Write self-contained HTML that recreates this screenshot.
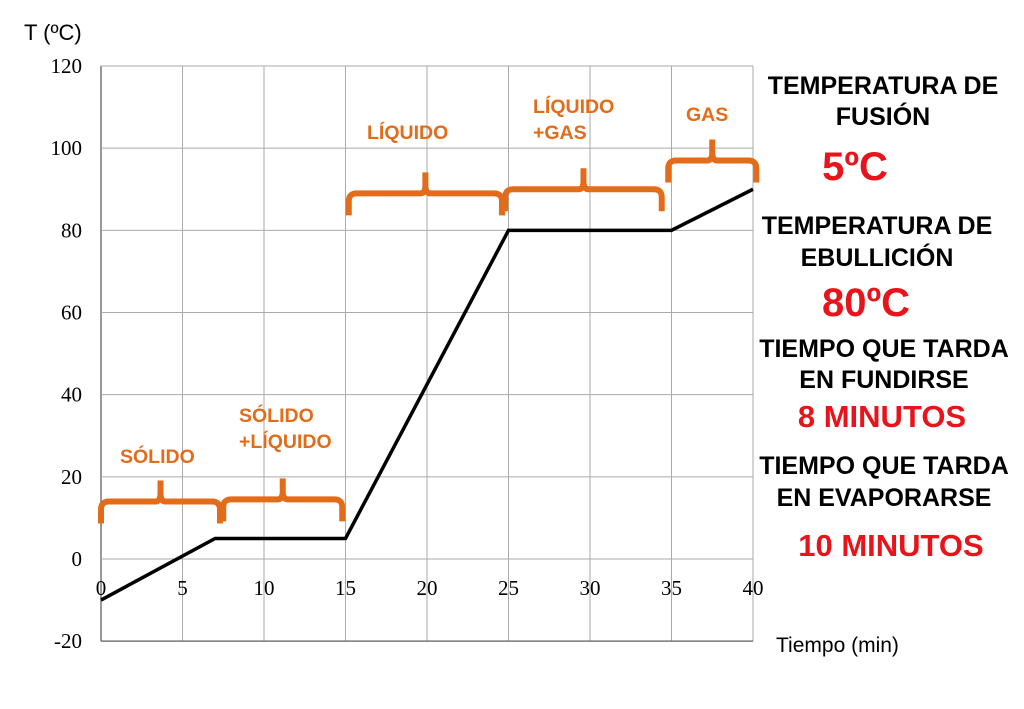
<!DOCTYPE html>
<html><head><meta charset="utf-8"><style>
body{margin:0;background:#fff;}
svg{display:block;}
.t{font-family:"Liberation Serif",serif;font-size:21px;fill:#000;}
.o{font-family:"Liberation Sans",sans-serif;font-weight:bold;font-size:19.5px;fill:#E36C1A;}
.b{font-family:"Liberation Sans",sans-serif;font-weight:bold;font-size:25px;fill:#000;text-anchor:middle;}
.r{font-family:"Liberation Sans",sans-serif;font-weight:bold;fill:#E8141B;text-anchor:middle;}
</style></head><body>
<svg id="c" width="1024" height="709">
<g id="grid"></g>
<g id="ticks"></g>
<g id="series"></g>
<g id="braces"></g>
<text x="24" y="40" font-family="Liberation Sans,sans-serif" font-size="22">T (ºC)</text>
<text x="776" y="652" font-family="Liberation Sans,sans-serif" font-size="21">Tiempo (min)</text>
<text class="o" x="120" y="463">SÓLIDO</text>
<text class="o" x="239" y="422">SÓLIDO</text>
<text class="o" x="239" y="448">+LÍQUIDO</text>
<text class="o" x="367" y="139">LÍQUIDO</text>
<text class="o" x="533" y="113">LÍQUIDO</text>
<text class="o" x="533" y="139">+GAS</text>
<text class="o" x="686" y="121">GAS</text>
<text class="b" x="883" y="94">TEMPERATURA DE</text>
<text class="b" x="883" y="125">FUSIÓN</text>
<text class="r" x="855" y="180" font-size="40">5ºC</text>
<text class="b" x="877" y="234">TEMPERATURA DE</text>
<text class="b" x="877" y="266">EBULLICIÓN</text>
<text class="r" x="866" y="316" font-size="40">80ºC</text>
<text class="b" x="884" y="357">TIEMPO QUE TARDA</text>
<text class="b" x="884" y="388">EN FUNDIRSE</text>
<text class="r" x="882" y="427" font-size="31">8 MINUTOS</text>
<text class="b" x="884" y="474">TIEMPO QUE TARDA</text>
<text class="b" x="884" y="506">EN EVAPORARSE</text>
<text class="r" x="891" y="556" font-size="31">10 MINUTOS</text>
</svg>
<script>
const xTicks=[0,5,10,15,20,25,30,35,40];
const yTicks=[-20,0,20,40,60,80,100,120];
const timeMin=[0,7,15,25,35,40];
const tempC=[-10,5,5,80,80,90];
const braceStart=[0,7.5,15.2,24.8,34.8];
const braceEnd=[7.3,14.8,24.6,34.4,40.2];
const braceTemp=[14,14.5,89,90,97];
const NS='http://www.w3.org/2000/svg';
const X=v=>101+v*(753-101)/40;
const Y=v=>559-v*(559-66)/120;
function mk(p,tag,a){const e=document.createElementNS(NS,tag);for(const k in a)e.setAttribute(k,a[k]);document.getElementById(p).appendChild(e);return e;}
xTicks.forEach(v=>{
 const l=mk('grid','line',{x1:X(v),x2:X(v),y1:Y(120),y2:Y(-20),stroke:v===0?'#777':'#aaa','stroke-width':v===0?1.5:1});
 
 
 const t=mk('ticks','text',{x:X(v),y:595,'text-anchor':'middle',class:'t'});t.textContent=v;
 
 
});
yTicks.forEach(v=>{
 const l=mk('grid','line',{x1:X(0),x2:X(40),y1:Y(v),y2:Y(v),stroke:v===-20?'#777':'#aaa','stroke-width':v===-20?1.5:1});
 
 
 const t=mk('ticks','text',{x:82,y:Y(v)+7,'text-anchor':'end',class:'t'});t.textContent=v;
 
 
});
const pts=timeMin.map((t,i)=>X(t)+','+Y(tempC[i])).join(' ');
const pl=mk('series','polyline',{points:pts,fill:'none',stroke:'#000','stroke-width':3.5});


braceStart.forEach((s,i)=>{
 const x1=X(s),x2=X(braceEnd[i]),y=Y(braceTemp[i]),m=(x1+x2)/2;
 const d=`M${x1},${y+22} L${x1},${y+8} Q${x1},${y} ${x1+8},${y} L${m-5},${y} Q${m},${y} ${m},${y-8} L${m},${y-21} M${m},${y-8} Q${m},${y} ${m+5},${y} L${x2-8},${y} Q${x2},${y} ${x2},${y+8} L${x2},${y+22}`;
 const b=mk('braces','path',{d:d,fill:'none',stroke:'#E36C1A','stroke-width':6});
 
 
});
</script>
</body></html>
